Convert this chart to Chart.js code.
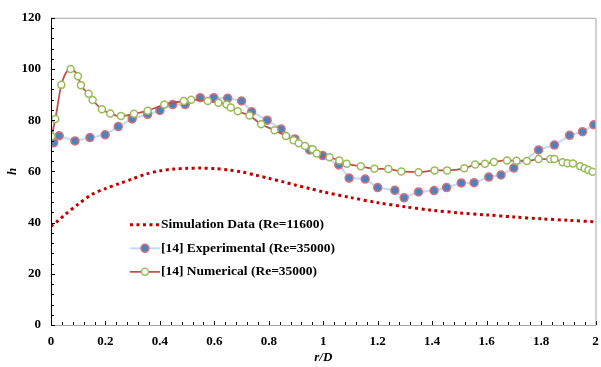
<!DOCTYPE html>
<html>
<head>
<meta charset="utf-8">
<script src="https://cdn.jsdelivr.net/npm/chart.js@4/dist/chart.umd.min.js"></script>
<style>
  html, body { margin: 0; padding: 0; background: #fff; }
  #wrap { width: 601px; height: 367px; position: relative; }
</style>
</head>
<body>
<div id="wrap"><canvas id="chart"></canvas></div>
<script>
// Simulation Data (Re=11600)
const simR = [0, 0.02, 0.05, 0.1, 0.15, 0.2, 0.25, 0.3, 0.35, 0.4, 0.45, 0.5, 0.55, 0.6, 0.65, 0.7, 0.75, 0.8, 0.85, 0.9, 0.95, 1.0, 1.1, 1.2, 1.3, 1.4, 1.5, 1.6, 1.7, 1.8, 1.9, 2.0];
const simH = [38.5, 40.2, 43, 47.2, 51, 53.3, 55.2, 57.1, 59, 60.2, 60.9, 61.2, 61.3, 61.1, 60.6, 59.8, 58.6, 57.3, 56, 54.6, 53.3, 52, 49.8, 47.8, 46.2, 44.8, 43.8, 43, 42.2, 41.5, 40.9, 40.3];

// [14] Experimental (Re=35000)
const expR = [0.01, 0.03, 0.088, 0.143, 0.199, 0.247, 0.298, 0.355, 0.40, 0.447, 0.493, 0.548, 0.598, 0.649, 0.70, 0.737, 0.794, 0.845, 0.896, 0.95, 0.998, 1.057, 1.095, 1.154, 1.20, 1.263, 1.297, 1.35, 1.407, 1.453, 1.507, 1.554, 1.608, 1.653, 1.70, 1.791, 1.849, 1.905, 1.952, 1.994];
const expH = [71.2, 73.9, 71.9, 73.2, 74.3, 77.5, 80.5, 82.3, 83.8, 86.1, 86.1, 88.8, 88.8, 88.6, 87.5, 83.3, 80.0, 76.6, 72.7, 68.4, 66.2, 62.5, 57.4, 57.0, 53.7, 52.6, 49.7, 52.0, 52.5, 53.7, 55.5, 55.6, 57.8, 58.6, 61.3, 68.4, 70.3, 74.1, 75.5, 78.2];

// [14] Numerical (Re=35000)
const numR = [0.002, 0.016, 0.038, 0.072, 0.099, 0.11, 0.138, 0.153, 0.187, 0.218, 0.257, 0.305, 0.355, 0.416, 0.488, 0.515, 0.576, 0.615, 0.645, 0.66, 0.686, 0.729, 0.772, 0.821, 0.863, 0.891, 0.91, 0.933, 0.961, 0.976, 1.023, 1.059, 1.086, 1.138, 1.188, 1.239, 1.287, 1.35, 1.409, 1.455, 1.518, 1.558, 1.594, 1.627, 1.675, 1.71, 1.748, 1.791, 1.834, 1.849, 1.879, 1.897, 1.917, 1.944, 1.96, 1.974, 1.989];
const numH = [73.7, 80.5, 93.8, 100, 97.2, 93.7, 90.3, 87.9, 84.3, 82.6, 81.6, 82.5, 83.7, 86.1, 87.5, 88, 87.5, 86.8, 86.1, 85, 83.5, 81.8, 78.4, 76.1, 73.8, 72.2, 71, 69.9, 68.7, 67, 65.5, 64.3, 63, 62, 61, 60.9, 60, 59.7, 60.4, 60.4, 61.2, 62.7, 63, 63.7, 64.3, 64.2, 64.1, 64.8, 64.8, 64.8, 63.6, 63.2, 63.1, 62, 61.2, 60.5, 59.9];

const legendLabels = ['Simulation Data (Re=11600)', '[14] Experimental (Re=35000)', '[14] Numerical (Re=35000)'];

const pts = (xs, ys) => xs.map((x, i) => ({ x: x, y: ys[i] }));
const FONT = "'Liberation Serif', 'Times New Roman', serif";

// tick marks pointing into the plot, plus frame
const framePlugin = {
  id: 'frame',
  afterDatasetsDraw(chart) {
    const { ctx, chartArea: a, scales: { x, y } } = chart;
    ctx.save();
    ctx.strokeStyle = '#a6a6a6';
    ctx.lineWidth = 1;
    ctx.beginPath();
    ctx.moveTo(a.left, a.top + 0.5); ctx.lineTo(a.right + 0.5, a.top + 0.5);
    ctx.lineTo(a.right + 0.5, a.bottom + 0.5); ctx.lineTo(a.left, a.bottom + 0.5);
    ctx.stroke();
    ctx.strokeStyle = '#000';
    ctx.beginPath();
    ctx.moveTo(a.left + 0.5, a.top); ctx.lineTo(a.left + 0.5, a.bottom + 1);
    ctx.stroke();
    ctx.beginPath();
    x.ticks.forEach(t => {
      const px = Math.round(x.getPixelForValue(t.value)) + 0.5;
      const len = t.label !== '' ? 4 : 3;
      ctx.moveTo(px, a.bottom); ctx.lineTo(px, a.bottom - len);
    });
    y.ticks.forEach(t => {
      const py = Math.round(y.getPixelForValue(t.value)) + 0.5;
      const len = t.label !== '' ? 4 : 3;
      ctx.moveTo(a.left, py); ctx.lineTo(a.left + len, py);
    });
    ctx.stroke();
    ctx.restore();
  }
};

// legend drawn inside the plot area
const innerLegend = {
  id: 'innerLegend',
  afterDraw(chart) {
    const { ctx, chartArea: a } = chart;
    const x0 = a.left + 0.145 * (a.right - a.left);
    const y0 = a.top + 0.674 * (a.bottom - a.top);
    ctx.save();
    ctx.font = 'bold 13.5px ' + FONT;
    ctx.textBaseline = 'middle';
    chart.data.datasets.forEach((ds, i) => {
      const yy = y0 + i * 23.5;
      ctx.strokeStyle = ds.borderColor;
      ctx.lineWidth = ds.borderWidth;
      ctx.setLineDash(ds.borderDash || []);
      ctx.beginPath();
      ctx.moveTo(x0, yy); ctx.lineTo(x0 + 30, yy);
      ctx.stroke();
      ctx.setLineDash([]);
      if (ds.pointRadius > 0) {
        ctx.beginPath();
        ctx.arc(x0 + 15, yy, ds.pointRadius, 0, Math.PI * 2);
        ctx.fillStyle = ds.pointBackgroundColor;
        ctx.fill();
        ctx.lineWidth = ds.pointBorderWidth;
        ctx.strokeStyle = ds.pointBorderColor;
        ctx.stroke();
      }
      ctx.fillStyle = '#000';
      ctx.fillText(legendLabels[i], x0 + 31, yy);
    });
    ctx.restore();
  }
};

new Chart(document.getElementById('chart'), {
  type: 'scatter',
  data: {
    datasets: [{
      label: legendLabels[0],
      data: pts(simR, simH),
      showLine: true,
      borderColor: '#c00000',
      borderWidth: 3,
      borderDash: [3, 3.5],
      pointRadius: 0,
      tension: 0.3,
      order: 3
    }, {
      label: legendLabels[1],
      data: pts(expR, expH),
      showLine: true,
      borderColor: '#c6d9f0',
      borderWidth: 2,
      pointRadius: 4,
      pointBackgroundColor: '#4f81bd',
      pointBorderColor: '#d9727a',
      pointBorderWidth: 1.5,
      tension: 0,
      order: 2
    }, {
      label: legendLabels[2],
      data: pts(numR, numH),
      showLine: true,
      borderColor: '#c0504d',
      borderWidth: 1.8,
      pointRadius: 3.5,
      pointBackgroundColor: '#ffffff',
      pointBorderColor: '#9bbb59',
      pointBorderWidth: 1.5,
      cubicInterpolationMode: 'monotone',
      order: 1
    }]
  },
  plugins: [framePlugin, innerLegend],
  options: {
    responsive: true,
    maintainAspectRatio: false,
    animation: false,
    layout: { padding: { top: 15, right: 4, left: 0, bottom: 0 } },
    plugins: {
      legend: { display: false },
      tooltip: { enabled: false }
    },
    scales: {
      x: {
        type: 'linear',
        min: 0,
        max: 2,
        afterFit: s => { s.height = 42; s.paddingRight = 0; s.paddingLeft = 0; },
        border: { display: false },
        grid: { display: false, drawTicks: false },
        ticks: {
          stepSize: 0.04,
          autoSkip: false,
          maxRotation: 0,
          padding: 9,
          color: '#000',
          font: { family: FONT, size: 13, weight: 'bold' },
          callback: v => {
            const k = Math.round(v * 5);
            return Math.abs(v * 5 - k) < 1e-6 ? String(k / 5) : '';
          }
        },
        title: {
          display: true,
          text: 'r/D',
          color: '#000',
          padding: { top: 0, bottom: 2 },
          font: { family: FONT, size: 13, weight: 'bold', style: 'italic' }
        }
      },
      y: {
        min: 0,
        max: 120,
        afterFit: s => { s.width = 51; },
        border: { display: false },
        grid: { display: false, drawTicks: false },
        ticks: {
          stepSize: 4,
          autoSkip: false,
          padding: 10,
          color: '#000',
          font: { family: FONT, size: 13, weight: 'bold' },
          callback: v => (v % 20 === 0 ? String(v) : '')
        },
        title: {
          display: true,
          text: 'h',
          color: '#000',
          padding: { top: 5, bottom: 0 },
          font: { family: FONT, size: 13, weight: 'bold', style: 'italic' }
        }
      }
    }
  }
});
</script>
</body>
</html>
